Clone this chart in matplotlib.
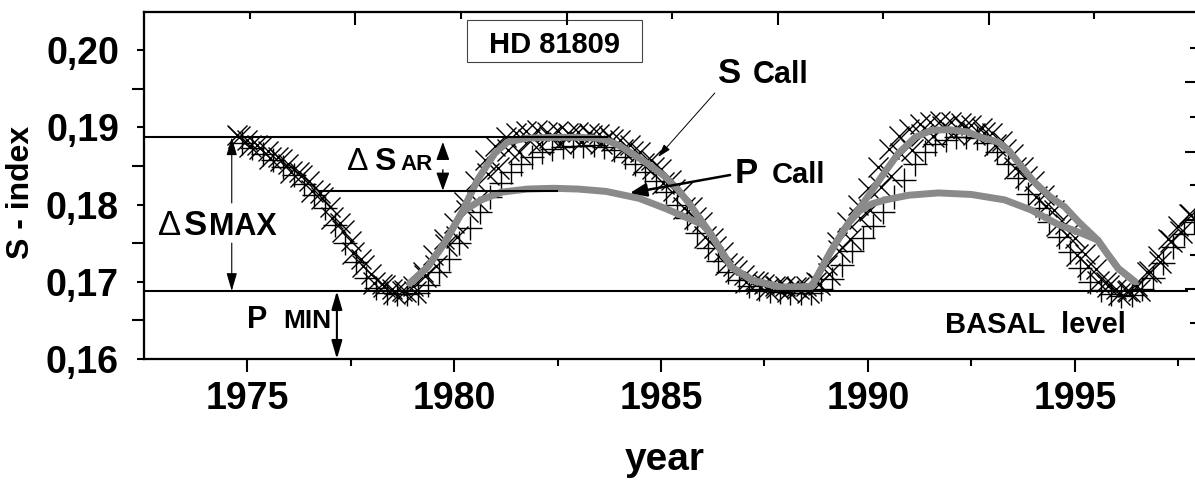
import numpy as np
import matplotlib
matplotlib.use('Agg')
import matplotlib.pyplot as plt
from matplotlib.patches import Rectangle

plt.rcParams['font.family'] = ['Liberation Sans', 'DejaVu Sans']
plt.rcParams['font.weight'] = 'bold'

# S-index measurements, upper/left edge of the band (x markers)
x_years = [1974.75,
           1975.0, 1975.25, 1975.5, 1975.75, 1976.0, 1976.25, 1976.5, 1976.75,
           1977.0, 1977.25, 1977.5, 1977.75, 1978.0, 1978.25, 1978.5, 1978.75,
           1979.0, 1979.25, 1979.5, 1979.75, 1980.0, 1980.25, 1980.5, 1980.75,
           1981.0, 1981.25, 1981.5, 1981.75, 1982.0, 1982.25, 1982.5, 1982.75,
           1983.0, 1983.25, 1983.5, 1983.75, 1984.0, 1984.25, 1984.5, 1984.75,
           1985.0, 1985.25, 1985.5, 1985.75, 1986.0, 1986.25, 1986.5, 1986.75,
           1987.0, 1987.25, 1987.5, 1987.75, 1988.0, 1988.25, 1988.5, 1988.75,
           1989.0, 1989.25, 1989.5, 1989.75, 1990.0, 1990.25, 1990.5, 1990.75,
           1991.0, 1991.25, 1991.5, 1991.75, 1992.0, 1992.25, 1992.5, 1992.75,
           1993.0, 1993.25, 1993.5, 1993.75, 1994.0, 1994.25, 1994.5, 1994.75,
           1995.0, 1995.25, 1995.5, 1995.75, 1996.0, 1996.25, 1996.5, 1996.75,
           1997.0, 1997.25, 1997.5, 1997.75]
x_sindex = [0.1890,
            0.1884, 0.1877, 0.1869, 0.1861, 0.1852, 0.1842, 0.1830, 0.1815,
            0.1797, 0.1776, 0.1753, 0.1730, 0.1710, 0.1697, 0.1690, 0.1688,
            0.1694, 0.1712, 0.1735, 0.1755, 0.1776, 0.1803, 0.1830, 0.1858,
            0.1876, 0.1888, 0.1893, 0.1895, 0.1896, 0.1894, 0.1895, 0.1893,
            0.1894, 0.1893, 0.1891, 0.1889, 0.1884, 0.1877, 0.1868, 0.1858,
            0.1846, 0.1832, 0.1816, 0.1797, 0.1777, 0.1757, 0.1738, 0.1721,
            0.1709, 0.1701, 0.1697, 0.1695, 0.1694, 0.1693, 0.1694, 0.1700,
            0.1722, 0.1752, 0.1778, 0.1800, 0.1822, 0.1848, 0.1872, 0.1889,
            0.1898, 0.1904, 0.1907, 0.1908, 0.1907, 0.1905, 0.1903, 0.1899,
            0.1893, 0.1882, 0.1866, 0.1849, 0.1830, 0.1812, 0.1793, 0.1775,
            0.1756, 0.1736, 0.1716, 0.1700, 0.1691, 0.1688, 0.1694, 0.1712,
            0.1733, 0.1755, 0.1772, 0.1788]

# lower/right edge of the band (+ markers)
p_years = [1974.875,
           1975.125, 1975.375, 1975.625, 1975.875, 1976.125, 1976.375, 1976.625, 1976.875,
           1977.125, 1977.375, 1977.625, 1977.875, 1978.125, 1978.375, 1978.625, 1978.875,
           1979.125, 1979.375, 1979.625, 1979.875, 1980.125, 1980.375, 1980.625, 1980.875,
           1981.125, 1981.375, 1981.625, 1981.875, 1982.125, 1982.375, 1982.625, 1982.875,
           1983.125, 1983.375, 1983.625, 1983.875, 1984.125, 1984.375, 1984.625, 1984.875,
           1985.125, 1985.375, 1985.625, 1985.875, 1986.125, 1986.375, 1986.625, 1986.875,
           1987.125, 1987.375, 1987.625, 1987.875, 1988.125, 1988.375, 1988.625, 1988.875,
           1989.125, 1989.375, 1989.625, 1989.875, 1990.125, 1990.375, 1990.625, 1990.875,
           1991.125, 1991.375, 1991.625, 1991.875, 1992.125, 1992.375, 1992.625, 1992.875,
           1993.125, 1993.375, 1993.625, 1993.875, 1994.125, 1994.375, 1994.625, 1994.875,
           1995.125, 1995.375, 1995.625, 1995.875, 1996.125, 1996.375, 1996.625, 1996.875,
           1997.125, 1997.375, 1997.625, 1997.875]
p_sindex = [0.1880,
            0.1873, 0.1865, 0.1857, 0.1848, 0.1838, 0.1826, 0.1812, 0.1795,
            0.1774, 0.1750, 0.1726, 0.1705, 0.1692, 0.1686, 0.1684, 0.1684,
            0.1686, 0.1696, 0.1712, 0.1730, 0.1750, 0.1770, 0.1790, 0.1810,
            0.1828, 0.1842, 0.1853, 0.1862, 0.1868, 0.1872, 0.1874, 0.1876,
            0.1876, 0.1877, 0.1875, 0.1870, 0.1862, 0.1853, 0.1842, 0.1830,
            0.1816, 0.1800, 0.1782, 0.1763, 0.1744, 0.1727, 0.1713, 0.1702,
            0.1695, 0.1691, 0.1688, 0.1687, 0.1686, 0.1686, 0.1686, 0.1690,
            0.1704, 0.1722, 0.1740, 0.1756, 0.1772, 0.1790, 0.1810, 0.1832,
            0.1852, 0.1868, 0.1878, 0.1884, 0.1887, 0.1888, 0.1886, 0.1880,
            0.1868, 0.1852, 0.1834, 0.1814, 0.1795, 0.1777, 0.1758, 0.1738,
            0.1718, 0.1700, 0.1689, 0.1684, 0.1682, 0.1683, 0.1690, 0.1705,
            0.1724, 0.1745, 0.1762, 0.1777]

# middle of the band (x markers)
m_years = [1974.81,
           1975.06, 1975.31, 1975.56, 1975.81, 1976.06, 1976.31, 1976.56, 1976.81,
           1977.06, 1977.31, 1977.56, 1977.81, 1978.06, 1978.31, 1978.56, 1978.81,
           1979.06, 1979.31, 1979.56, 1979.81, 1980.06, 1980.31, 1980.56, 1980.81,
           1981.06, 1981.31, 1981.56, 1981.81, 1982.06, 1982.31, 1982.56, 1982.81,
           1983.06, 1983.31, 1983.56, 1983.81, 1984.06, 1984.31, 1984.56, 1984.81,
           1985.06, 1985.31, 1985.56, 1985.81, 1986.06, 1986.31, 1986.56, 1986.81,
           1987.06, 1987.31, 1987.56, 1987.81, 1988.06, 1988.31, 1988.56, 1988.81,
           1989.06, 1989.31, 1989.56, 1989.81, 1990.06, 1990.31, 1990.56, 1990.81,
           1991.06, 1991.31, 1991.56, 1991.81, 1992.06, 1992.31, 1992.56, 1992.81,
           1993.06, 1993.31, 1993.56, 1993.81, 1994.06, 1994.31, 1994.56, 1994.81,
           1995.06, 1995.31, 1995.56, 1995.81, 1996.06, 1996.31, 1996.56, 1996.81,
           1997.06, 1997.31, 1997.56, 1997.81]
m_sindex = [0.1887,
            0.1876, 0.1873, 0.1860, 0.1857, 0.1842, 0.1837, 0.1818, 0.1808,
            0.1783, 0.1766, 0.1737, 0.1720, 0.1699, 0.1694, 0.1685, 0.1688,
            0.1687, 0.1707, 0.1720, 0.1747, 0.1758, 0.1792, 0.1805, 0.1840,
            0.1847, 0.1870, 0.1868, 0.1884, 0.1878, 0.1888, 0.1880, 0.1890,
            0.1881, 0.1889, 0.1879, 0.1884, 0.1870, 0.1868, 0.1852, 0.1847,
            0.1828, 0.1819, 0.1796, 0.1783, 0.1758, 0.1745, 0.1723, 0.1714,
            0.1700, 0.1698, 0.1690, 0.1693, 0.1688, 0.1692, 0.1687, 0.1697,
            0.1710, 0.1740, 0.1755, 0.1782, 0.1793, 0.1823, 0.1837, 0.1865,
            0.1871, 0.1890, 0.1889, 0.1900, 0.1893, 0.1900, 0.1891, 0.1893,
            0.1877, 0.1870, 0.1847, 0.1835, 0.1810, 0.1798, 0.1773, 0.1760,
            0.1734, 0.1721, 0.1700, 0.1695, 0.1684, 0.1688, 0.1689, 0.1712,
            0.1726, 0.1753, 0.1764, 0.1786]

# S Call fit (grey)
scall_years = [1978.93, 1979.36, 1979.77, 1980.18, 1980.57, 1980.98, 1981.29, 1981.77,
               1982.5, 1983.0, 1983.4, 1983.7, 1984.0, 1984.3, 1984.7, 1985.1,
               1985.4, 1985.7, 1986.2, 1986.7, 1987.2, 1987.9, 1988.3, 1988.64,
               1989.12, 1989.53, 1989.94, 1990.33, 1990.73, 1991.14, 1991.53, 1991.94,
               1992.4, 1992.73, 1993.14, 1993.4, 1993.7, 1994.0, 1994.4, 1994.75,
               1995.1, 1995.55, 1995.8, 1996.05, 1996.45]
scall_s = [0.1698, 0.1719, 0.1750, 0.1789, 0.1832, 0.1866, 0.1881, 0.1886,
           0.1887, 0.1887, 0.1886, 0.1883, 0.1876, 0.1866, 0.1852, 0.1836,
           0.1820, 0.1800, 0.1762, 0.1719, 0.1702, 0.1693, 0.1693, 0.1694,
           0.1741, 0.1776, 0.1806, 0.1836, 0.1866, 0.1887, 0.1896, 0.1897,
           0.1894, 0.1887, 0.1881, 0.1870, 0.1850, 0.1830, 0.1810, 0.1797,
           0.1777, 0.1754, 0.1735, 0.1717, 0.1700]

# P Call fit (grey)
pcall_years = [1978.93, 1979.36, 1979.77, 1980.18, 1980.33, 1980.66, 1981.14, 1981.77,
               1982.4, 1983.0, 1983.67, 1984.47, 1985.1, 1985.75, 1986.0, 1986.2,
               1986.7, 1987.2, 1987.9, 1988.3, 1988.64, 1989.12, 1989.53, 1989.8,
               1990.1, 1990.42, 1990.98, 1991.7, 1992.5, 1993.3, 1993.94, 1994.6,
               1995.15, 1995.55, 1995.8, 1996.05, 1996.45]
pcall_s = [0.1698, 0.1719, 0.1750, 0.1789, 0.1795, 0.1806, 0.1816, 0.1820,
           0.1821, 0.1820, 0.1817, 0.1808, 0.1795, 0.1780, 0.1774, 0.1762,
           0.1719, 0.1702, 0.1693, 0.1693, 0.1694, 0.1741, 0.1776, 0.1792,
           0.1801, 0.1806, 0.1812, 0.1815, 0.1813, 0.1806, 0.1793, 0.1774,
           0.1763, 0.1754, 0.1735, 0.1717, 0.1700]

smax_level = 0.1887
pcall_level = 0.1818
basal_level = 0.1688

yticks = [0.16, 0.17, 0.18, 0.19, 0.20]
xticks = [1975, 1980, 1985, 1990, 1995]
top_ticks = [1975.07, 1977.61, 1980.17, 1982.73, 1985.27, 1987.83, 1990.36, 1992.92, 1995.46]
right_ticks = [0.20026, 0.19590, 0.19137, 0.18684, 0.18252, 0.17799, 0.17346, 0.16906, 0.16466]

fig = plt.figure(figsize=(11.95, 4.8), dpi=100)
ax = fig.add_axes([0.1205, 0.2521, 0.8812, 0.7235])
xlim = (1972.51, 1997.95)
ylim = (0.16, 0.20496)

ax.plot(x_years, x_sindex, ls='none', marker='x', ms=15, mew=1.0, color='black', zorder=2)
ax.plot(p_years, p_sindex, ls='none', marker='+', ms=17, mew=1.0, color='black', zorder=2)
ax.plot(m_years, m_sindex, ls='none', marker='x', ms=16, mew=1.0, color='black', zorder=2)
ax.plot(scall_years, scall_s, color='#8a8a8a', lw=5, solid_capstyle='round', zorder=3)
ax.plot(pcall_years, pcall_s, color='#8a8a8a', lw=5, solid_capstyle='round', zorder=3)

ax.plot([xlim[0], 1983.7], [smax_level, smax_level], color='black', lw=1.5, zorder=4)
ax.plot([1976.77, 1982.49], [pcall_level, pcall_level], color='black', lw=1.5, zorder=4)
ax.plot([xlim[0], 1997.7], [basal_level, basal_level], color='black', lw=1.5, zorder=4)


def arrow(tail, tip, lw=0.8, style='-|>', hl=0.55, hw=0.16):
    ax.annotate('', xy=tip, xytext=tail,
                arrowprops=dict(arrowstyle=f'{style},head_length={hl},head_width={hw}',
                                mutation_scale=20, lw=lw, color='black',
                                shrinkA=0, shrinkB=0), zorder=5)


# delta S max
arrow((1974.63, 0.1802), (1974.63, smax_level))
arrow((1974.63, 0.1750), (1974.63, basal_level))
ax.text(1972.86, 0.17605, '\u0394', fontsize=25, fontweight='normal')
ax.text(1973.47, 0.17605, 'S', fontsize=25)
ax.text(1974.08, 0.17605, 'MAX', fontsize=22)

# P min
arrow((1977.17, basal_level), (1977.17, 0.1600), lw=1.5, style='<|-|>')
ax.text(1975.0, 0.16401, 'P', fontsize=22)
ax.text(1975.87, 0.16401, 'MIN', fontsize=19)

# delta S AR
arrow((1979.73, 0.1862), (1979.73, 0.1881), lw=1.0, hl=0.55, hw=0.2)
arrow((1979.73, 0.1845), (1979.73, pcall_level), lw=1.0, hl=0.55, hw=0.2)
ax.text(1977.42, 0.18447, '\u0394', fontsize=23, fontweight='normal')
ax.text(1978.06, 0.18447, 'S', fontsize=23)
ax.text(1978.70, 0.18447, 'AR', fontsize=16)

# S Call / P Call labels
ax.text(1986.38, 0.19573, 'S', fontsize=25)
ax.text(1987.22, 0.19573, 'Call', fontsize=22)
arrow((1986.30, 0.19443), (1984.93, 0.18615), lw=0.7, hl=0.4, hw=0.12)
ax.text(1986.79, 0.18278, 'P', fontsize=25)
ax.text(1987.68, 0.18278, 'Call', fontsize=21)
arrow((1986.67, 0.18382), (1984.25, 0.18149), lw=1.8, hl=0.5, hw=0.2)

ax.text(1991.86, 0.16337, 'BASAL  level', fontsize=21)

# star name box
ax.add_patch(Rectangle((1980.31, 0.19849), 4.24, 0.00539, fill=False,
                       edgecolor='#444444', lw=0.8, zorder=5))
ax.text(1982.43, 0.19957, 'HD 81809', fontsize=21, ha='center')

ax.set_xlim(xlim)
ax.set_ylim(ylim)
ax.set_xticks(xticks)
ax.set_xticks([1977.5, 1982.5, 1987.5, 1992.5, 1997.5], minor=True)
ax.set_yticks(yticks)
ax.set_yticks([0.165, 0.175, 0.185, 0.195], minor=True)
ax.set_yticklabels([f'{v:.2f}'.replace('.', ',') for v in yticks], fontsize=27)
ax.set_xticklabels([str(v) for v in xticks], fontsize=27)
ax.tick_params(axis='x', which='major', direction='out', length=9, width=1.5, pad=7)
ax.tick_params(axis='x', which='minor', direction='out', length=5, width=1.5)
ax.tick_params(axis='y', which='major', direction='out', length=5, width=1.5, pad=13)
ax.tick_params(axis='y', which='minor', direction='out', length=9, width=1.5)
for s in ax.spines.values():
    s.set_linewidth(1.5)

ax_top = ax.twiny()
ax_top.set_xlim(xlim)
ax_top.set_xticks(top_ticks)
ax_top.set_xticklabels([])
ax_top.tick_params(axis='x', direction='in', length=5, width=1.5)
for i, t in enumerate(ax_top.xaxis.get_major_ticks()):
    if i % 2 == 1:
        t.tick2line.set_markersize(9)

ax_right = ax.twinx()
ax_right.set_ylim(ylim)
ax_right.set_yticks(right_ticks)
ax_right.set_yticklabels([])
ax_right.tick_params(axis='y', direction='in', length=5, width=1.5)
for i, t in enumerate(ax_right.yaxis.get_major_ticks()):
    if i % 2 == 1:
        t.tick2line.set_markersize(9)
for a in (ax_top, ax_right):
    for s in a.spines.values():
        s.set_linewidth(1.5)

fig.text(21 / 1195, 1 - 192 / 480, 'S - index', rotation=90, fontsize=23,
         ha='center', va='center')
fig.text(665 / 1195, 1 - 470 / 480, 'year', fontsize=28, ha='center', va='baseline')

fig.savefig('out.png', dpi=100)
